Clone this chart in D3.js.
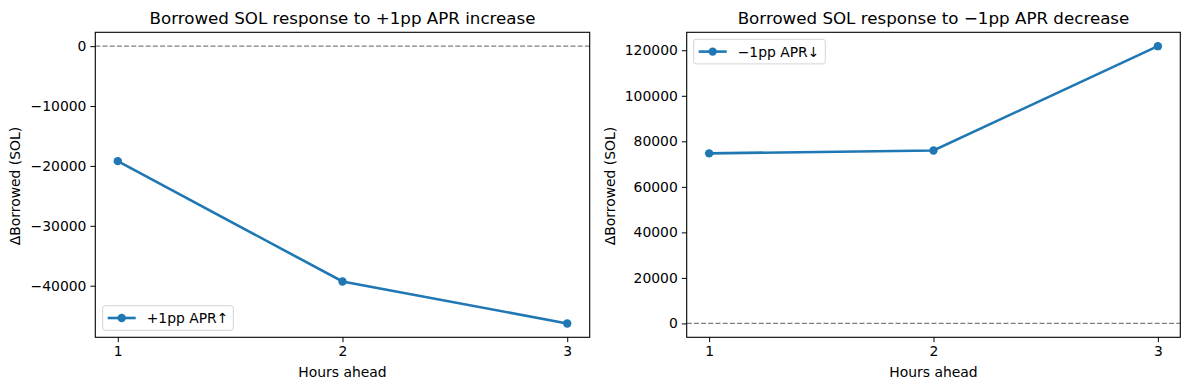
<!DOCTYPE html>
<html>
<head>
<meta charset="utf-8">
<script src="https://d3js.org/d3.v7.min.js"></script>
<style>
  body { margin: 0; background: #fff; }
  svg { display: block; font-family: "DejaVu Sans", sans-serif; }
</style>
</head>
<body>
<div id="chart"></div>
<script>
const hours = [1, 2, 3];
const upValues = [-19200, -39300, -46300];
const downValues = [74700, 76000, 121800];
const upTicks = [0, -10000, -20000, -30000, -40000];
const downTicks = [0, 20000, 40000, 60000, 80000, 100000, 120000];

const W = 1189, H = 390;
const blue = '#1f77b4';
const fs = 13.9;
const svg = d3.select('#chart').append('svg').attr('width', W).attr('height', H);

function panel(cfg) {
  const x = d3.scaleLinear().domain([0.9, 3.1]).range([cfg.left, cfg.right]);
  const lo = Math.min(0, d3.min(cfg.values)), hi = Math.max(0, d3.max(cfg.values));
  const pad = (hi - lo) * 0.05;
  const y = d3.scaleLinear().domain([lo - pad, hi + pad]).range([337.3, 32.3]);
  const g = svg.append('g');

  // zero reference line
  g.append('line')
    .attr('x1', cfg.left).attr('x2', cfg.right)
    .attr('y1', y(0)).attr('y2', y(0))
    .attr('stroke', 'gray').attr('stroke-width', 1.2)
    .attr('stroke-dasharray', '5,2.2');

  const line = d3.line().x((d, i) => x(hours[i])).y(d => y(d));
  g.append('path').datum(cfg.values)
    .attr('d', line).attr('fill', 'none')
    .attr('stroke', blue).attr('stroke-width', 2.6);
  g.selectAll('circle.pt').data(cfg.values).enter().append('circle')
    .attr('class', 'pt')
    .attr('cx', (d, i) => x(hours[i])).attr('cy', d => y(d))
    .attr('r', 4.2).attr('fill', blue);

  const xAxis = d3.axisBottom(x).tickValues(hours).tickFormat(d3.format('d')).tickSize(4.9).tickPadding(4);
  const gx = g.append('g').attr('transform', 'translate(0,337.3)').call(xAxis);
  const yAxis = d3.axisLeft(y).tickValues(cfg.ticks)
    .tickFormat(d => d < 0 ? '\u2212' + Math.abs(d) : d).tickSize(4.9).tickPadding(4);
  const gy = g.append('g').attr('transform', `translate(${cfg.left},0)`).call(yAxis);
  [gx, gy].forEach(a => {
    a.select('.domain').remove();
    a.selectAll('text').attr('font-size', fs).attr('fill', '#000').attr('font-family', '"DejaVu Sans", sans-serif');
    a.selectAll('line').attr('stroke', '#000').attr('stroke-width', 1);
  });

  g.append('rect')
    .attr('x', cfg.left).attr('y', 32.3)
    .attr('width', cfg.right - cfg.left).attr('height', 337.3 - 32.3)
    .attr('fill', 'none').attr('stroke', '#000').attr('stroke-width', 1.1);

  g.append('text').text(cfg.title)
    .attr('x', (cfg.left + cfg.right) / 2).attr('y', 24)
    .attr('text-anchor', 'middle').attr('font-size', 16.7);
  g.append('text').text('Hours ahead')
    .attr('x', (cfg.left + cfg.right) / 2).attr('y', 377)
    .attr('text-anchor', 'middle').attr('font-size', fs);
  g.append('text').text('\u0394Borrowed (SOL)')
    .attr('transform', `translate(${cfg.left - cfg.ylabOff},186) rotate(-90)`)
    .attr('text-anchor', 'middle').attr('font-size', fs);

  // legend
  const lg = g.append('g').attr('transform', `translate(${cfg.legX},${cfg.legY})`);
  lg.append('rect').attr('width', cfg.legW).attr('height', 24.6).attr('rx', 2.5)
    .attr('fill', 'white').attr('fill-opacity', 0.8)
    .attr('stroke', '#d4d4d4').attr('stroke-width', 1);
  lg.append('line').attr('x1', 5).attr('x2', 33).attr('y1', 12.3).attr('y2', 12.3)
    .attr('stroke', blue).attr('stroke-width', 2.6);
  lg.append('circle').attr('cx', 19).attr('cy', 12.3).attr('r', 4.2).attr('fill', blue);
  lg.append('text').text(cfg.legend).attr('x', 44).attr('y', 17.3)
    .attr('font-size', fs);
}

panel({
  left: 95.3, right: 589.7, values: upValues, ticks: upTicks,
  title: 'Borrowed SOL response to +1pp APR increase',
  legend: '+1pp APR\u2191', legX: 102.7, legY: 305.7, legW: 130.6, ylabOff: 75
});
panel({
  left: 686.7, right: 1180.3, values: downValues, ticks: downTicks,
  title: 'Borrowed SOL response to \u22121pp APR decrease',
  legend: '\u22121pp APR\u2193', legX: 693.7, legY: 39.3, legW: 131.6, ylabOff: 72
});
</script>
</body>
</html>
